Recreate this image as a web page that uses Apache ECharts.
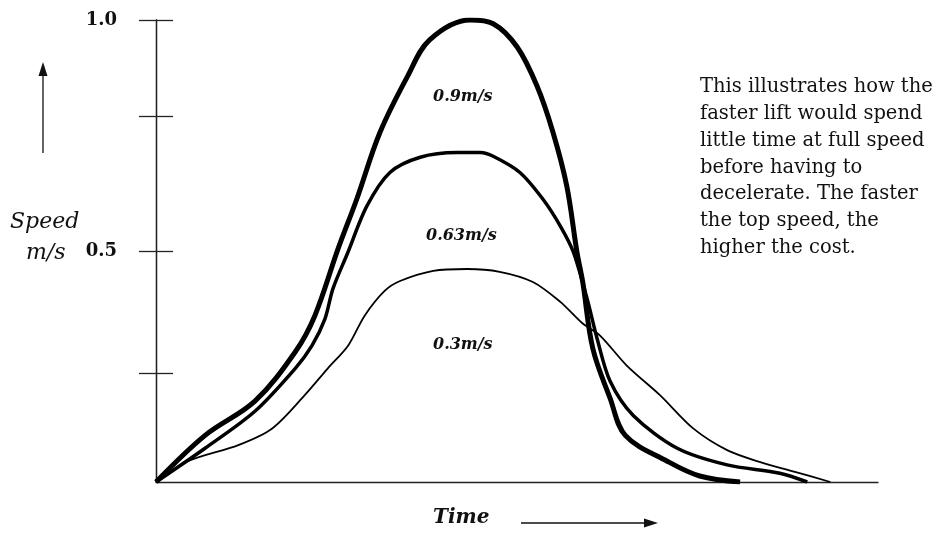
<!DOCTYPE html>
<html>
<head>
<meta charset="utf-8">
<script src="https://cdn.jsdelivr.net/npm/echarts@6/dist/echarts.min.js"></script>
<style>html,body{margin:0;padding:0;background:#fff;}#c{width:944px;height:536px;}</style>
</head>
<body>
<div id="c"></div>
<script>
// Time (arbitrary units, 0-100 across the axis) and speed (m/s)
const time09  = [0, 6.8, 13.7, 19.3, 22.0, 25.2, 27.8, 31.0, 34.8, 37.9, 43.5, 46.7, 50.0, 52.8, 55.0, 56.9, 58.3, 59.1, 60.5, 62.9, 65.0, 70.8, 75.3, 80.9];
const speed09 = [0, 0.101, 0.175, 0.282, 0.360, 0.504, 0.612, 0.756, 0.877, 0.957, 1.0, 0.992, 0.942, 0.856, 0.756, 0.640, 0.498, 0.433, 0.289, 0.181, 0.101, 0.045, 0.013, 0.0];

const time063  = [0, 6.8, 13.7, 19.3, 21.6, 23.4, 24.5, 26.5, 29.2, 32.4, 36.6, 41.7, 44.9, 46.7, 50.4, 53.6, 56.0, 57.8, 59.7, 61.1, 62.9, 66.1, 72.2, 79.1, 86.4, 90.2];
const speed063 = [0, 0.073, 0.153, 0.246, 0.295, 0.353, 0.418, 0.494, 0.597, 0.670, 0.703, 0.713, 0.713, 0.705, 0.670, 0.612, 0.554, 0.498, 0.397, 0.310, 0.218, 0.144, 0.073, 0.037, 0.019, 0.0];

const time03  = [0, 4.4, 11.4, 16.1, 20.6, 23.8, 26.6, 28.9, 31.7, 33.8, 38.4, 43.1, 47.6, 52.2, 56.0, 59.1, 61.5, 65.2, 69.8, 74.4, 79.1, 83.7, 88.5, 93.4];
const speed03 = [0, 0.045, 0.080, 0.116, 0.188, 0.246, 0.295, 0.360, 0.414, 0.435, 0.457, 0.461, 0.455, 0.433, 0.390, 0.343, 0.317, 0.252, 0.188, 0.116, 0.069, 0.043, 0.022, 0.0];

const tickValues = [0.235, 0.5, 0.791, 1.0];
const labelValues = [0.5, 1.0];
const seriesNames = ['0.9m/s', '0.63m/s', '0.3m/s'];

const zip = (xs, ys) => xs.map((x, i) => [x, ys[i]]);

const chart = echarts.init(document.getElementById('c'), null, {renderer: 'canvas'});
const serif = 'DejaVu Serif';
const axisCommon = {
  type: 'value', min: 0, max: 1,
  axisLine: {show: true, lineStyle: {color: '#222', width: 1.3}},
  splitLine: {show: false}
};
chart.setOption({
  backgroundColor: '#fff',
  animation: false,
  grid: {left: 156, right: 66, top: 20, bottom: 54, containLabel: false, outerBoundsMode: 'none'},
  xAxis: {
    type: 'value', min: 0, max: 100,
    axisLine: {show: true, lineStyle: {color: '#222', width: 1.3}},
    axisTick: {show: false}, axisLabel: {show: false}, splitLine: {show: false}
  },
  yAxis: [
    Object.assign({}, axisCommon, {
      axisTick: {show: true, inside: false, length: 17, customValues: tickValues, lineStyle: {color: '#222', width: 1.3}},
      axisLabel: {show: true, customValues: labelValues, formatter: v => v.toFixed(1), margin: 39,
        fontFamily: serif, fontWeight: 'bold', fontSize: 18, color: '#111'}
    }),
    Object.assign({}, axisCommon, {
      position: 'left', offset: 0,
      axisTick: {show: true, inside: true, length: 17, customValues: tickValues, lineStyle: {color: '#222', width: 1.3}},
      axisLabel: {show: false}
    })
  ],
  series: [
    {name: seriesNames[0], type: 'line', data: zip(time09, speed09), showSymbol: false, smooth: 0.35,
      lineStyle: {color: '#000', width: 5}},
    {name: seriesNames[1], type: 'line', data: zip(time063, speed063), showSymbol: false, smooth: 0.3,
      lineStyle: {color: '#000', width: 3.5}},
    {name: seriesNames[2], type: 'line', data: zip(time03, speed03), showSymbol: false, smooth: 0.3,
      lineStyle: {color: '#000', width: 1.8}}
  ],
  graphic: [
    {type: 'text', left: 433, top: 89, style: {text: seriesNames[0], font: 'italic bold 16px "DejaVu Serif"', fill: '#111'}},
    {type: 'text', left: 426, top: 228, style: {text: seriesNames[1], font: 'italic bold 16px "DejaVu Serif"', fill: '#111'}},
    {type: 'text', left: 433, top: 337, style: {text: seriesNames[2], font: 'italic bold 16px "DejaVu Serif"', fill: '#111'}},
    {type: 'text', left: 10, top: 211, style: {text: 'Speed', font: 'italic 22px "DejaVu Serif"', fill: '#111'}},
    {type: 'text', left: 26, top: 242, style: {text: 'm/s', font: 'italic 22px "DejaVu Serif"', fill: '#111'}},
    {type: 'text', left: 433, top: 508, style: {text: 'Time', font: 'italic bold 20px "DejaVu Serif"', fill: '#111'}},
    {type: 'text', left: 700, top: 74, style: {
      text: 'This illustrates how the\nfaster lift would spend\nlittle time at full speed\nbefore having to\ndecelerate. The faster\nthe top speed, the\nhigher the cost.',
      font: '19.5px "DejaVu Serif"', lineHeight: 26.7, fill: '#111'}},
    {type: 'line', shape: {x1: 43, y1: 153, x2: 43, y2: 72}, style: {stroke: '#111', lineWidth: 1.3}},
    {type: 'polygon', shape: {points: [[43, 62], [38.5, 76], [47.5, 76]]}, style: {fill: '#111'}},
    {type: 'line', shape: {x1: 521, y1: 523, x2: 645, y2: 523}, style: {stroke: '#111', lineWidth: 1.3}},
    {type: 'polygon', shape: {points: [[658, 523], [644, 518.5], [644, 527.5]]}, style: {fill: '#111'}}
  ]
});
</script>
</body>
</html>
